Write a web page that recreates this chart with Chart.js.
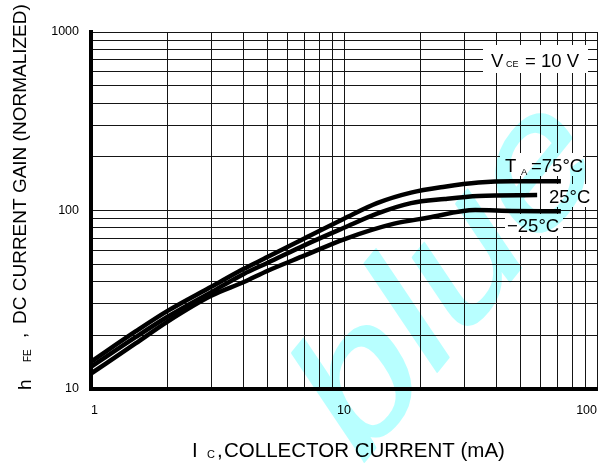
<!DOCTYPE html>
<html>
<head>
<meta charset="utf-8">
<script src="https://cdn.jsdelivr.net/npm/chart.js@4.4.1/dist/chart.umd.min.js"></script>
<style>
  body { margin: 0; background: #fff; }
  canvas { display: block; }
</style>
</head>
<body>
<canvas id="chart" width="605" height="463"></canvas>
<script>
// hFE vs collector current
const icHot = [1, 1.5, 2, 3, 4, 5, 7, 10, 13.5, 18.4, 25, 34, 46, 72];
const hfeHot = [14.2, 21, 27.3, 37.5, 47, 55, 70, 90, 110, 126, 136, 143.5, 146, 146];

const icRoom = [1, 1.5, 2, 3, 4, 5, 7, 10, 13.5, 18.4, 25, 34, 58];
const hfeRoom = [13.3, 19.5, 25.3, 35, 44, 51, 64, 80, 96, 110, 116, 120.5, 122];

const icCold = [1, 1.5, 2, 3, 4, 5, 7, 10, 15.8, 21.4, 33, 46, 72];
const hfeCold = [12.2, 18, 23.8, 33.4, 39.6, 46, 56, 69, 84.4, 91, 100.5, 99.5, 99];

// grid lines and the labelled ticks
const xGrid = [1, 2, 3, 4, 5, 6, 7, 8, 9, 10, 20, 30, 40, 50, 60, 70, 80, 90, 100];
const yGrid = [10, 20, 30, 40, 50, 60, 70, 80, 90, 100, 200, 300, 400, 500, 600, 700, 800, 900, 1000];
const xLabels = [1, 10, 100];
const yLabels = [10, 100, 1000];

const FONT = '"Liberation Sans", Arial, sans-serif';

function points(xs, ys) {
    return xs.map((x, i) => ({ x: x, y: ys[i] }));
}

function txt(ctx, s, x, y, size) {
    ctx.font = size + 'px ' + FONT;
    ctx.fillText(s, x, y);
}

const decorations = {
    id: 'decorations',
    beforeDatasetsDraw(chart) {
        const ctx = chart.ctx;
        ctx.save();
        // white boxes behind the labels inside the plot
        ctx.fillStyle = '#fff';
        ctx.fillRect(483, 45, 105, 28);
        ctx.fillRect(500, 153, 83, 23);
        ctx.fillRect(546, 184, 48, 23);
        ctx.fillRect(505, 214, 58, 22);

        ctx.fillStyle = '#000';
        ctx.textBaseline = 'alphabetic';
        txt(ctx, 'V', 491, 66.5, 18.5);
        txt(ctx, 'CE', 506, 67, 9);
        txt(ctx, '= 10 V', 525, 66.5, 18.5);

        txt(ctx, 'T', 505, 171.5, 18.5);
        txt(ctx, 'A', 521, 175, 9.5);
        txt(ctx, '=75°C', 531, 171.5, 18.5);
        txt(ctx, '25°C', 549, 203, 18.5);
        txt(ctx, '\u221225°C', 507, 231.5, 18.5);
        ctx.restore();
    },
    afterDraw(chart) {
        const ctx = chart.ctx;
        ctx.save();
        ctx.fillStyle = '#000';
        ctx.textBaseline = 'alphabetic';

        // x axis title
        txt(ctx, 'I', 192, 457, 20.5);
        txt(ctx, 'C', 207, 458, 11);
        txt(ctx, ',', 217, 457, 20.5);
        txt(ctx, 'COLLECTOR CURRENT (mA)', 224, 457, 20.5);

        // y axis title, rotated
        ctx.save();
        ctx.translate(31, 396);
        ctx.rotate(-Math.PI / 2);
        txt(ctx, 'h', 6, 0, 19);
        txt(ctx, 'FE', 34, 0, 10);
        ctx.restore();
        ctx.save();
        ctx.translate(26, 0);
        ctx.rotate(-Math.PI / 2);
        txt(ctx, ',', -338, 0, 19);
        txt(ctx, 'DC CURRENT GAIN (NORMALIZED)', -324, 0, 19);
        ctx.restore();
        ctx.restore();

        // watermark: drawn on its own layer, then tinted over everything
        const off = document.createElement('canvas');
        off.width = chart.width;
        off.height = chart.height;
        const o = off.getContext('2d');
        o.setTransform(0.723, -0.894, 0.558, 0.830, 356, 472);
        o.fillStyle = '#b8ffff';
        o.strokeStyle = '#b8ffff';
        o.lineWidth = 2;
        o.lineJoin = 'round';
        o.font = '180px ' + FONT;
        o.fillText('blue', 0, 0);
        o.strokeText('blue', 0, 0);

        ctx.save();
        ctx.globalCompositeOperation = 'multiply';
        ctx.drawImage(off, 0, 0);
        ctx.restore();
    }
};

function axis(grid, labels, fit) {
    return {
        type: 'logarithmic',
        min: grid[0],
        max: grid[grid.length - 1],
        afterBuildTicks: s => { s.ticks = grid.map(v => ({ value: v })); },
        afterFit: s => {
            fit(s);
            s.paddingLeft = 0;
            s.paddingRight = 0;
            s.paddingTop = 0;
            s.paddingBottom = 0;
        },
        grid: { color: '#151515', lineWidth: 1, drawTicks: false },
        border: { color: '#000', width: 4 },
        ticks: {
            autoSkip: false,
            maxRotation: 0,
            color: '#000',
            font: { family: FONT, size: 12.5 },
            callback: v => labels.includes(v) ? String(v) : ''
        }
    };
}

const xAxis = axis(xGrid, xLabels, s => { s.height = 74; });
xAxis.ticks.padding = 14;
xAxis.ticks.align = 'inner';
const yAxis = axis(yGrid, yLabels, s => { s.width = 91; });
yAxis.ticks.padding = 12;

const line = (xs, ys) => ({
    data: points(xs, ys),
    borderColor: '#000',
    borderWidth: 4.5,
    pointRadius: 0,
    cubicInterpolationMode: 'monotone',
    fill: false
});

new Chart(document.getElementById('chart'), {
    type: 'line',
    data: {
        datasets: [
            line(icHot, hfeHot),
            line(icRoom, hfeRoom),
            line(icCold, hfeCold)
        ]
    },
    options: {
        responsive: false,
        animation: false,
        layout: { padding: { top: 32, right: 8, left: 0, bottom: 0 } },
        plugins: { legend: { display: false }, tooltip: { enabled: false } },
        scales: { x: xAxis, y: yAxis }
    },
    plugins: [decorations]
});
</script>
</body>
</html>
